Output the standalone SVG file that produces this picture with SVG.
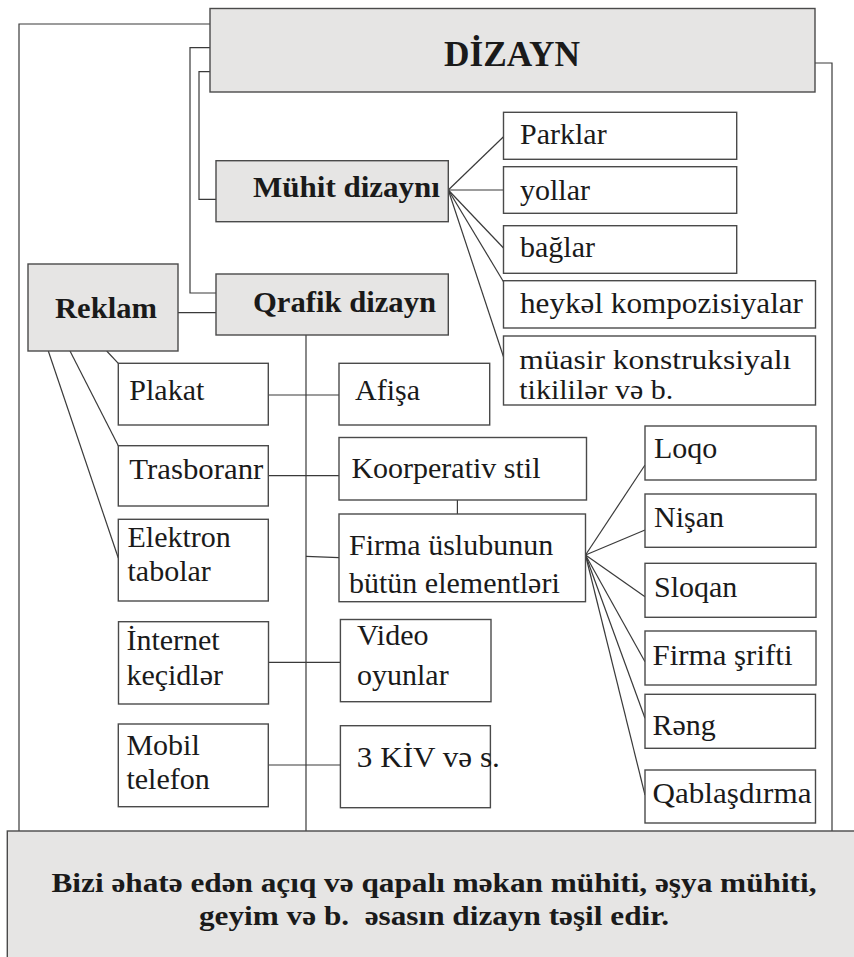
<svg xmlns="http://www.w3.org/2000/svg" width="854" height="957" viewBox="0 0 854 957">
<style>
.g{fill:#e6e5e4;stroke:#4a4a4a;stroke-width:1.4}
.w{fill:#ffffff;stroke:#4a4a4a;stroke-width:1.4}
.c{fill:none;stroke:#3a3a3a;stroke-width:1.2}
.t{font-family:"Liberation Serif","Times New Roman",serif;font-size:30px;fill:#1a1a1a}
.b{font-family:"Liberation Serif","Times New Roman",serif;font-weight:bold;font-size:30px;fill:#1a1a1a}
</style>
<rect x="0" y="0" width="854" height="957" fill="#ffffff"/>
<g id="connectors">
<polyline class="c" points="210,24 19,24 19,831"/>
<polyline class="c" points="210,47.7 190,47.7 190,293 216,293"/>
<polyline class="c" points="210,71.7 199,71.7 199,199.3 216,199.3"/>
<polyline class="c" points="815,63 832,63 832,831"/>
<line class="c" x1="448.3" y1="190" x2="503.5" y2="136.7"/>
<line class="c" x1="448.3" y1="190" x2="503.5" y2="190"/>
<line class="c" x1="448.3" y1="190" x2="503.5" y2="248"/>
<line class="c" x1="448.3" y1="190" x2="503.5" y2="281.7"/>
<line class="c" x1="448.3" y1="190" x2="503.5" y2="356.7"/>
<line class="c" x1="178" y1="312.7" x2="216" y2="312.7"/>
<line class="c" x1="306" y1="335" x2="306" y2="831"/>
<line class="c" x1="48.3" y1="351" x2="118.3" y2="558"/>
<line class="c" x1="70" y1="351" x2="118.3" y2="445.7"/>
<line class="c" x1="106.7" y1="351" x2="118.3" y2="363.3"/>
<line class="c" x1="268.3" y1="395" x2="339" y2="395"/>
<line class="c" x1="268.3" y1="475.7" x2="339" y2="475.7"/>
<line class="c" x1="306" y1="556.3" x2="339" y2="557.7"/>
<line class="c" x1="457.4" y1="500" x2="457.4" y2="514"/>
<line class="c" x1="268.5" y1="662.3" x2="340.4" y2="662.3"/>
<line class="c" x1="268.3" y1="765" x2="340.4" y2="765"/>
<line class="c" x1="585.5" y1="555" x2="645" y2="465"/>
<line class="c" x1="585.5" y1="555" x2="645" y2="530"/>
<line class="c" x1="585.5" y1="555" x2="645" y2="596.7"/>
<line class="c" x1="585.5" y1="555" x2="645" y2="661.7"/>
<line class="c" x1="585.5" y1="555" x2="645" y2="718.3"/>
<line class="c" x1="585.5" y1="555" x2="645" y2="795"/>
</g>
<g id="n-dizayn"><rect class="g" x="210" y="8.5" width="605" height="83.5"/><text class="b" x="512" y="66" text-anchor="middle" style="font-size:35px" textLength="136" lengthAdjust="spacingAndGlyphs">DİZAYN</text></g>
<g id="n-muhit"><rect class="g" x="216" y="160.7" width="232.3" height="61"/><text class="b" x="253" y="197" textLength="187" lengthAdjust="spacingAndGlyphs">Mühit dizaynı</text></g>
<g id="n-qrafik"><rect class="g" x="216" y="274" width="232.3" height="61"/><text class="b" x="253" y="311.7" textLength="183" lengthAdjust="spacingAndGlyphs">Qrafik dizayn</text></g>
<g id="n-reklam"><rect class="g" x="28" y="264" width="150" height="87"/><text class="b" x="55" y="318" textLength="102" lengthAdjust="spacingAndGlyphs">Reklam</text></g>
<g id="n-parklar"><rect class="w" x="503.5" y="112.3" width="233.2" height="47"/><text class="t" x="520" y="144">Parklar</text></g>
<g id="n-yollar"><rect class="w" x="503.5" y="166.7" width="233.2" height="46.6"/><text class="t" x="520" y="200">yollar</text></g>
<g id="n-baglar"><rect class="w" x="503.5" y="225.7" width="233.2" height="47.6"/><text class="t" x="520" y="256.7">bağlar</text></g>
<g id="n-heykel"><rect class="w" x="503.5" y="280.7" width="312" height="47.3"/><text class="t" x="520" y="313.3" textLength="283" lengthAdjust="spacingAndGlyphs">heykəl kompozisiyalar</text></g>
<g id="n-muasir"><rect class="w" x="503.5" y="336" width="312" height="69"/><text class="t" x="519.3" y="369" style="font-size:27px" textLength="272" lengthAdjust="spacingAndGlyphs">müasir konstruksiyalı</text><text class="t" x="519.3" y="399" style="font-size:27px" textLength="154" lengthAdjust="spacingAndGlyphs">tikililər və b.</text></g>
<g id="n-plakat"><rect class="w" x="118.3" y="363.3" width="150" height="61.7"/><text class="t" x="129.3" y="400">Plakat</text></g>
<g id="n-trasboranr"><rect class="w" x="118.3" y="445.7" width="150" height="60.3"/><text class="t" x="129.3" y="479.3" textLength="134" lengthAdjust="spacingAndGlyphs">Trasboranr</text></g>
<g id="n-elektron"><rect class="w" x="118.3" y="519.3" width="150" height="81.7"/><text class="t" x="127.5" y="546.7">Elektron</text><text class="t" x="127.5" y="580.7">tabolar</text></g>
<g id="n-internet"><rect class="w" x="118.5" y="621.7" width="150" height="82.3"/><text class="t" x="126.4" y="650">İnternet</text><text class="t" x="126.4" y="685">keçidlər</text></g>
<g id="n-mobil"><rect class="w" x="118.3" y="724" width="150" height="82.7"/><text class="t" x="126.4" y="755">Mobil</text><text class="t" x="126.4" y="789.3">telefon</text></g>
<g id="n-afisa"><rect class="w" x="339" y="363.3" width="150.7" height="61.7"/><text class="t" x="355" y="400">Afişa</text></g>
<g id="n-koorperativ"><rect class="w" x="339" y="437.5" width="247.5" height="62.5"/><text class="t" x="351.4" y="478.3">Koorperativ stil</text></g>
<g id="n-firma"><rect class="w" x="339" y="514" width="246.5" height="87.7"/><text class="t" x="349" y="555">Firma üslubunun</text><text class="t" x="349" y="593.3">bütün elementləri</text></g>
<g id="n-video"><rect class="w" x="340.4" y="619.5" width="150.6" height="82.2"/><text class="t" x="357" y="645">Video</text><text class="t" x="357" y="685">oyunlar</text></g>
<g id="n-kiv"><rect class="w" x="340.4" y="725.7" width="150" height="82"/><text class="t" x="356.8" y="766.7" textLength="143" lengthAdjust="spacingAndGlyphs">3 KİV və s.</text></g>
<g id="n-loqo"><rect class="w" x="645" y="426" width="171" height="54"/><text class="t" x="654" y="458.3">Loqo</text></g>
<g id="n-nisan"><rect class="w" x="645" y="494" width="171" height="53.3"/><text class="t" x="654" y="527.3">Nişan</text></g>
<g id="n-sloqan"><rect class="w" x="645" y="563.3" width="171" height="54"/><text class="t" x="654" y="596.7">Sloqan</text></g>
<g id="n-srift"><rect class="w" x="645" y="631" width="171" height="54"/><text class="t" x="652.5" y="665" textLength="140" lengthAdjust="spacingAndGlyphs">Firma şrifti</text></g>
<g id="n-reng"><rect class="w" x="645" y="694.3" width="170.5" height="54"/><text class="t" x="652.5" y="735">Rəng</text></g>
<g id="n-qablasdirma"><rect class="w" x="645" y="770" width="170.5" height="53"/><text class="t" x="652.5" y="803.3" textLength="159" lengthAdjust="spacingAndGlyphs">Qablaşdırma</text></g>
<g id="n-bottom"><rect class="g" x="7.3" y="831" width="860" height="140"/><text class="b" x="434" y="892" text-anchor="middle" style="font-size:27px" textLength="765" lengthAdjust="spacingAndGlyphs">Bizi əhatə edən açıq və qapalı məkan mühiti, əşya mühiti,</text><text class="b" x="434" y="924.5" text-anchor="middle" style="font-size:27px" textLength="470" lengthAdjust="spacingAndGlyphs" xml:space="preserve">geyim və b.  əsasın dizayn təşil edir.</text></g>
</svg>
